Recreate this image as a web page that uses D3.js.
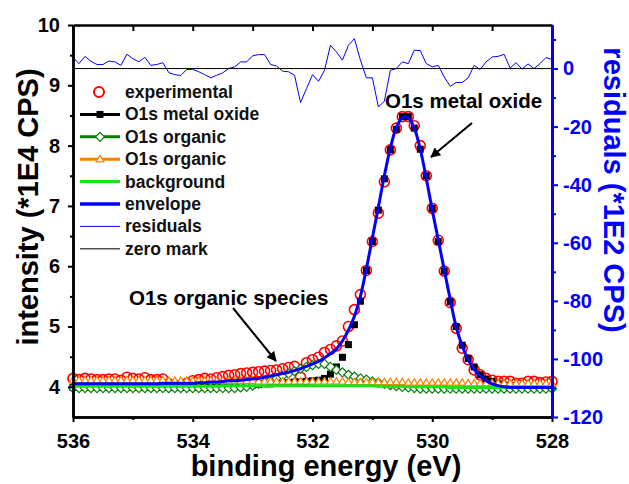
<!DOCTYPE html>
<html>
<head>
<meta charset="utf-8">
<script src="https://cdn.jsdelivr.net/npm/d3@7"></script>
<style>
  body { margin: 0; background: #fff; }
  svg { display: block; font-family: "Liberation Sans", Arial, sans-serif; font-weight: bold; }
</style>
</head>
<body>
<div id="chart"></div>
<script>
// binding energy grid (eV)
var energy = [
  536.0, 535.9, 535.8, 535.7, 535.6, 535.5, 535.4, 535.3, 535.2, 535.1,
  535.0, 534.9, 534.8, 534.7, 534.6, 534.5, 534.4, 534.3, 534.2, 534.1,
  534.0, 533.9, 533.8, 533.7, 533.6, 533.5, 533.4, 533.3, 533.2, 533.1,
  533.0, 532.9, 532.8, 532.7, 532.6, 532.5, 532.4, 532.3, 532.2, 532.1,
  532.0, 531.9, 531.8, 531.7, 531.6, 531.5, 531.4, 531.3, 531.2, 531.1,
  531.0, 530.9, 530.8, 530.7, 530.6, 530.5, 530.4, 530.3, 530.2, 530.1,
  530.0, 529.9, 529.8, 529.7, 529.6, 529.5, 529.4, 529.3, 529.2, 529.1,
  529.0, 528.9, 528.8, 528.7, 528.6, 528.5, 528.4, 528.3, 528.2, 528.1,
  528.0
];

// intensity (*1E4 CPS)
var experimental = [
  4.14, 4.12, 4.14, 4.13, 4.12, 4.12, 4.13, 4.13, 4.11, 4.16,
  4.14, 4.13, 4.15, 4.12, 4.12, 4.13, 4.05, 4.03, 4.02, 4.06,
  4.10, 4.12, 4.14, 4.13, 4.15, 4.17, 4.19, 4.20, 4.22, 4.23,
  4.24, 4.25, 4.26, 4.27, 4.28, 4.30, 4.32, 4.34, 4.16, 4.40,
  4.45, 4.49, 4.57, 4.62, 4.68, 4.76, 5.00, 5.28, 5.53, 5.93,
  6.41, 6.88, 7.40, 7.93, 8.29, 8.48, 8.48, 8.33, 8.00, 7.50,
  6.96, 6.43, 5.92, 5.40, 4.97, 4.64, 4.45, 4.28, 4.20, 4.14,
  4.11, 4.09, 4.09, 4.09, 4.06, 4.06, 4.09, 4.09, 4.07, 4.08,
  4.09
];

var metalOxide = [
  3.99, 3.99, 3.99, 3.99, 3.99, 3.99, 3.99, 3.99, 3.99, 3.99,
  3.99, 3.99, 3.99, 3.99, 3.99, 3.99, 3.99, 3.99, 3.99, 3.99,
  3.99, 3.99, 3.99, 4.00, 4.00, 4.01, 4.01, 4.02, 4.02, 4.03,
  4.03, 4.04, 4.05, 4.05, 4.06, 4.06, 4.07, 4.08, 4.08, 4.09,
  4.10, 4.11, 4.14, 4.21, 4.33, 4.49, 4.70, 5.03, 5.42, 5.93,
  6.41, 6.93, 7.45, 7.93, 8.27, 8.48, 8.48, 8.29, 7.94, 7.50,
  6.96, 6.41, 5.92, 5.41, 5.00, 4.69, 4.47, 4.33, 4.20, 4.13,
  4.09, 4.05, 4.03, 4.02, 4.01, 4.00, 4.00, 3.99, 3.99, 3.99,
  3.99
];

var organic1 = [
  3.98, 3.98, 3.98, 3.98, 3.98, 3.98, 3.98, 3.98, 3.98, 3.98,
  3.98, 3.98, 3.98, 3.98, 3.98, 3.98, 3.98, 3.98, 3.98, 3.98,
  3.98, 3.98, 3.98, 3.98, 3.98, 3.98, 3.98, 3.98, 3.99, 4.00,
  4.02, 4.05, 4.08, 4.11, 4.14, 4.18, 4.22, 4.26, 4.30, 4.33,
  4.36, 4.38, 4.38, 4.33, 4.28, 4.24, 4.20, 4.17, 4.14, 4.12,
  4.09, 4.07, 4.05, 4.03, 4.01, 4.00, 3.99, 3.98, 3.97, 3.97,
  3.97, 3.97, 3.97, 3.97, 3.97, 3.97, 3.97, 3.97, 3.97, 3.97,
  3.97, 3.97, 3.97, 3.97, 3.97, 3.97, 3.97, 3.97, 3.97, 3.97,
  3.97
];

var organic2 = [
  4.11, 4.11, 4.11, 4.11, 4.11, 4.11, 4.11, 4.11, 4.11, 4.11,
  4.11, 4.11, 4.11, 4.11, 4.11, 4.11, 4.10, 4.10, 4.10, 4.10,
  4.10, 4.10, 4.10, 4.10, 4.10, 4.10, 4.10, 4.10, 4.10, 4.10,
  4.10, 4.09, 4.09, 4.09, 4.09, 4.09, 4.09, 4.09, 4.09, 4.09,
  4.09, 4.09, 4.09, 4.09, 4.09, 4.09, 4.08, 4.08, 4.08, 4.08,
  4.08, 4.08, 4.08, 4.08, 4.08, 4.08, 4.07, 4.07, 4.07, 4.07,
  4.07, 4.07, 4.07, 4.07, 4.07, 4.07, 4.06, 4.06, 4.06, 4.06,
  4.06, 4.06, 4.06, 4.06, 4.06, 4.06, 4.06, 4.06, 4.06, 4.06,
  4.06
];

var background = [
  4.01, 4.01, 4.01, 4.01, 4.01, 4.01, 4.01, 4.01, 4.01, 4.01,
  4.01, 4.01, 4.01, 4.01, 4.01, 4.01, 4.01, 4.01, 4.01, 4.01,
  4.01, 4.01, 4.01, 4.01, 4.01, 4.02, 4.02, 4.02, 4.02, 4.02,
  4.02, 4.02, 4.02, 4.02, 4.02, 4.02, 4.02, 4.02, 4.02, 4.02,
  4.02, 4.02, 4.02, 4.02, 4.02, 4.02, 4.02, 4.02, 4.02, 4.02,
  4.02, 4.01, 4.01, 4.01, 4.01, 4.01, 4.00, 4.00, 4.00, 4.00,
  4.00, 4.00, 4.00, 3.99, 3.99, 3.99, 3.99, 3.99, 3.99, 3.99,
  3.99, 3.99, 3.99, 3.99, 3.99, 3.99, 3.99, 3.99, 3.99, 3.99,
  3.99
];

var envelope = [
  4.05, 4.05, 4.05, 4.05, 4.05, 4.05, 4.05, 4.05, 4.05, 4.05,
  4.05, 4.05, 4.05, 4.05, 4.05, 4.06, 4.06, 4.06, 4.06, 4.06,
  4.06, 4.07, 4.07, 4.08, 4.08, 4.09, 4.10, 4.10, 4.11, 4.12,
  4.13, 4.14, 4.16, 4.18, 4.20, 4.22, 4.24, 4.27, 4.30, 4.34,
  4.38, 4.42, 4.48, 4.55, 4.63, 4.76, 4.94, 5.17, 5.50, 5.96,
  6.47, 6.98, 7.50, 7.96, 8.30, 8.46, 8.46, 8.29, 7.94, 7.46,
  6.93, 6.44, 5.94, 5.45, 4.99, 4.68, 4.45, 4.29, 4.18, 4.10,
  4.05, 4.02, 4.00, 3.99, 3.99, 3.99, 3.99, 3.99, 3.99, 3.99,
  3.99
];

// residuals (*1E2 CPS)
var residuals = [
  3.8, 1.7, 4.2, 2.5, 1.4, 1.4, 2.6, 2.3, 1.1, 4.9,
  3.4, 2.3, 3.9, 1.1, 1.4, 2.0, -1.4, -2.1, -2.4, -0.3,
  -0.3, -1.1, -2.1, -3.2, -2.3, -1.5, 0.0, 0.6, 2.3, 2.3,
  4.4, 4.8, 4.8, 1.4, 0.9, -0.9, -1.1, -2.3, -11.7, -6.9,
  -2.1, -4.4, -0.6, 8.0, 5.7, 2.9, 8.0, 10.3, 2.9, -3.2,
  -3.2, -13.2, -11.3, -0.6, 0.0, 2.3, 1.7, 6.3, 6.2, 1.7,
  0.6, 1.1, -2.9, -6.1, -4.8, -4.8, -3.2, 1.1, -0.3, 2.3,
  4.0, 4.2, 4.9, 0.2, 2.0, -0.2, 1.6, 0.0, 1.7, 3.8,
  3.1
];

var xTicks = [536, 534, 532, 530, 528];
var xMinor = [535, 533, 531, 529];
var yTicks = [4, 5, 6, 7, 8, 9, 10];
var yMinor = [4.5, 5.5, 6.5, 7.5, 8.5, 9.5];
var rTicks = [-120, -100, -80, -60, -40, -20, 0];
var rMinor = [-110, -90, -70, -50, -30, -10, 10];

var legendItems = [
  {name: "experimental", kind: "circle"},
  {name: "O1s metal oxide", kind: "square"},
  {name: "O1s organic", kind: "diamond"},
  {name: "O1s organic", kind: "triangle"},
  {name: "background", kind: "bg"},
  {name: "envelope", kind: "env"},
  {name: "residuals", kind: "res"},
  {name: "zero mark", kind: "zero"}
];

var colors = {
  circle: "#ff0000", square: "#000000", diamond: "#008000", triangle: "#ff8000",
  bg: "#14e614", env: "#0000ff", res: "#0000ff", zero: "#555555"
};

var diamondPath = "M0,-4.5L4.5,0L0,4.5L-4.5,0Z";
var trianglePath = "M0,-3.8L3.8,2.6L-3.8,2.6Z";

drawChart();

function drawChart() {
  var margin = {top: 25, right: 77, bottom: 67, left: 73},
    width = 629 - margin.left - margin.right,
    height = 484 - margin.top - margin.bottom;

  var svg = d3.select("#chart").append("svg")
    .attr("width", 629)
    .attr("height", 484);
  var g = svg.append("g")
    .attr("transform", "translate(" + margin.left + "," + margin.top + ")");

  var x = d3.scaleLinear().domain([536, 528]).range([0, width]);
  var y = d3.scaleLinear().domain([3.5, 10]).range([height, 0]);
  var yR = d3.scaleLinear().domain([-120, 15]).range([height, 0]);

  var pts = energy.map(function(e, i) {
    return {e: e, exp: experimental[i], mox: metalOxide[i], o1: organic1[i], o2: organic2[i],
      bg: background[i], env: envelope[i], res: residuals[i]};
  });

  // experimental
  g.selectAll(".exp").data(pts).enter().append("circle")
    .attr("class", "exp")
    .attr("cx", function(d) { return x(d.e); })
    .attr("cy", function(d) { return y(d.exp); })
    .attr("r", 5)
    .style("fill", "none").style("stroke", colors.circle).style("stroke-width", 1.6);

  // metal oxide
  g.selectAll(".mox").data(pts).enter().append("rect")
    .attr("class", "mox")
    .attr("x", function(d) { return x(d.e) - 3.5; })
    .attr("y", function(d) { return y(d.mox) - 3.5; })
    .attr("width", 7).attr("height", 7)
    .style("fill", colors.square);

  // organic 1
  g.selectAll(".o1").data(pts).enter().append("path")
    .attr("class", "o1")
    .attr("transform", function(d) { return "translate(" + x(d.e) + "," + y(d.o1) + ")"; })
    .attr("d", diamondPath)
    .style("fill", "#fff").style("stroke", colors.diamond).style("stroke-width", 1.2);

  // organic 2
  g.selectAll(".o2").data(pts).enter().append("path")
    .attr("class", "o2")
    .attr("transform", function(d) { return "translate(" + x(d.e) + "," + y(d.o2) + ")"; })
    .attr("d", trianglePath)
    .style("fill", "#fff").style("stroke", colors.triangle).style("stroke-width", 1.2);

  // background
  g.append("path").datum(pts)
    .attr("d", d3.line().x(function(d) { return x(d.e); }).y(function(d) { return y(d.bg); }))
    .style("fill", "none").style("stroke", colors.bg).style("stroke-width", 3);

  // envelope
  g.append("path").datum(pts)
    .attr("d", d3.line().curve(d3.curveCatmullRom)
      .x(function(d) { return x(d.e); }).y(function(d) { return y(d.env); }))
    .style("fill", "none").style("stroke", colors.env).style("stroke-width", 3);

  // residuals + zero mark
  g.append("path").datum(pts)
    .attr("d", d3.line().x(function(d) { return x(d.e); }).y(function(d) { return yR(d.res); }))
    .style("fill", "none").style("stroke", colors.res).style("stroke-width", 1);
  g.append("line")
    .attr("x1", 0).attr("x2", width)
    .attr("y1", yR(0)).attr("y2", yR(0))
    .style("stroke", "#000").style("stroke-width", 1);

  // axes
  function styleAxis(sel, color, lw) {
    sel.selectAll("path.domain").style("stroke", color).style("stroke-width", lw);
    sel.selectAll(".tick line").style("stroke", color).style("stroke-width", 2);
    sel.selectAll(".tick text").style("fill", color)
      .style("font-family", "'Liberation Sans', Arial, sans-serif")
      .style("font-weight", "bold").style("font-size", "20px");
  }

  var bottom = g.append("g").attr("transform", "translate(0," + height + ")")
    .call(d3.axisBottom(x).tickValues(xTicks).tickSize(5).tickSizeOuter(0).tickPadding(12)
      .tickFormat(d3.format("d")));
  styleAxis(bottom, "#000", 2.5);
  var bottomMinor = g.append("g").attr("transform", "translate(0," + height + ")")
    .call(d3.axisBottom(x).tickValues(xMinor).tickSize(3).tickSizeOuter(0).tickFormat(""));
  styleAxis(bottomMinor, "#000", 2.5);

  var top = g.append("g")
    .call(d3.axisTop(x).tickValues(xTicks.concat(xMinor)).tickSize(-6).tickSizeOuter(0).tickFormat(""));
  styleAxis(top, "#000", 2.5);

  var left = g.append("g")
    .call(d3.axisLeft(y).tickValues(yTicks).tickSize(5).tickSizeOuter(0).tickPadding(8)
      .tickFormat(d3.format("d")));
  styleAxis(left, "#000", 2.5);
  var leftMinor = g.append("g")
    .call(d3.axisLeft(y).tickValues(yMinor).tickSize(3).tickSizeOuter(0).tickFormat(""));
  styleAxis(leftMinor, "#000", 2.5);

  var right = g.append("g").attr("transform", "translate(" + width + ",0)")
    .call(d3.axisRight(yR).tickValues(rTicks).tickSize(6).tickSizeOuter(0).tickPadding(5)
      .tickFormat(function(d) { return String(d); }));
  styleAxis(right, "#0000ff", 3);
  var rightMinor = g.append("g").attr("transform", "translate(" + width + ",0)")
    .call(d3.axisRight(yR).tickValues(rMinor).tickSize(4).tickSizeOuter(0).tickFormat(""));
  styleAxis(rightMinor, "#0000ff", 3);

  // axis titles
  svg.append("text")
    .attr("transform", "translate(38,207) rotate(-90)")
    .attr("text-anchor", "middle").style("font-size", "29px").attr("fill", "#000")
    .text("intensity (*1E4 CPS)");
  svg.append("text")
    .attr("x", 326).attr("y", 476)
    .attr("text-anchor", "middle").style("font-size", "29px").attr("fill", "#000")
    .text("binding energy (eV)");
  svg.append("text")
    .attr("transform", "translate(604,190) rotate(90)")
    .attr("text-anchor", "middle").style("font-size", "29px").attr("fill", "#0000ff")
    .text("residuals (*1E2 CPS)");

  // legend
  var legend = svg.append("g").attr("transform", "translate(80,92)");
  var row = legend.selectAll(".lg").data(legendItems).enter().append("g")
    .attr("class", "lg")
    .attr("transform", function(d, i) { return "translate(0," + (i * 22.4) + ")"; });

  row.filter(function(d) { return d.kind !== "circle"; }).append("line")
    .attr("x1", 0).attr("x2", 40).attr("y1", 0).attr("y2", 0)
    .style("stroke", function(d) { return colors[d.kind]; })
    .style("stroke-width", function(d) {
      if (d.kind === "res") return 1;
      if (d.kind === "zero") return 1.5;
      if (d.kind === "env") return 3.5;
      return 3;
    });
  row.filter(function(d) { return d.kind === "circle"; }).append("circle")
    .attr("cx", 19).attr("cy", 0).attr("r", 5)
    .style("fill", "none").style("stroke", colors.circle).style("stroke-width", 2);
  row.filter(function(d) { return d.kind === "square"; }).append("rect")
    .attr("x", 16.5).attr("y", -3.5).attr("width", 7).attr("height", 7)
    .style("fill", "#000");
  row.filter(function(d) { return d.kind === "diamond"; }).append("path")
    .attr("transform", "translate(20,0)").attr("d", diamondPath)
    .style("fill", "#fff").style("stroke", colors.diamond).style("stroke-width", 1.2);
  row.filter(function(d) { return d.kind === "triangle"; }).append("path")
    .attr("transform", "translate(20,0)").attr("d", trianglePath)
    .style("fill", "#fff").style("stroke", colors.triangle).style("stroke-width", 1.2);
  row.append("text")
    .attr("x", 45).attr("y", 6)
    .style("font-size", "17.5px").attr("fill", "#111")
    .text(function(d) { return d.name; });

  // annotations
  svg.append("defs").append("marker")
    .attr("id", "arrow").attr("viewBox", "0 0 10 10")
    .attr("refX", 9).attr("refY", 5)
    .attr("markerWidth", 5).attr("markerHeight", 5)
    .attr("orient", "auto")
    .append("path").attr("d", "M0,0L10,5L0,10Z").style("fill", "#000");

  svg.append("text").attr("x", 385).attr("y", 108)
    .style("font-size", "20.5px").attr("fill", "#000").text("O1s metal oxide");
  svg.append("line")
    .attr("x1", 472).attr("y1", 123).attr("x2", 431).attr("y2", 157)
    .style("stroke", "#000").style("stroke-width", 2).attr("marker-end", "url(#arrow)");

  svg.append("text").attr("x", 129).attr("y", 305)
    .style("font-size", "20.5px").attr("fill", "#000").text("O1s organic species");
  svg.append("line")
    .attr("x1", 233).attr("y1", 308).attr("x2", 276).attr("y2", 361)
    .style("stroke", "#000").style("stroke-width", 2).attr("marker-end", "url(#arrow)");
}
</script>
</body>
</html>
